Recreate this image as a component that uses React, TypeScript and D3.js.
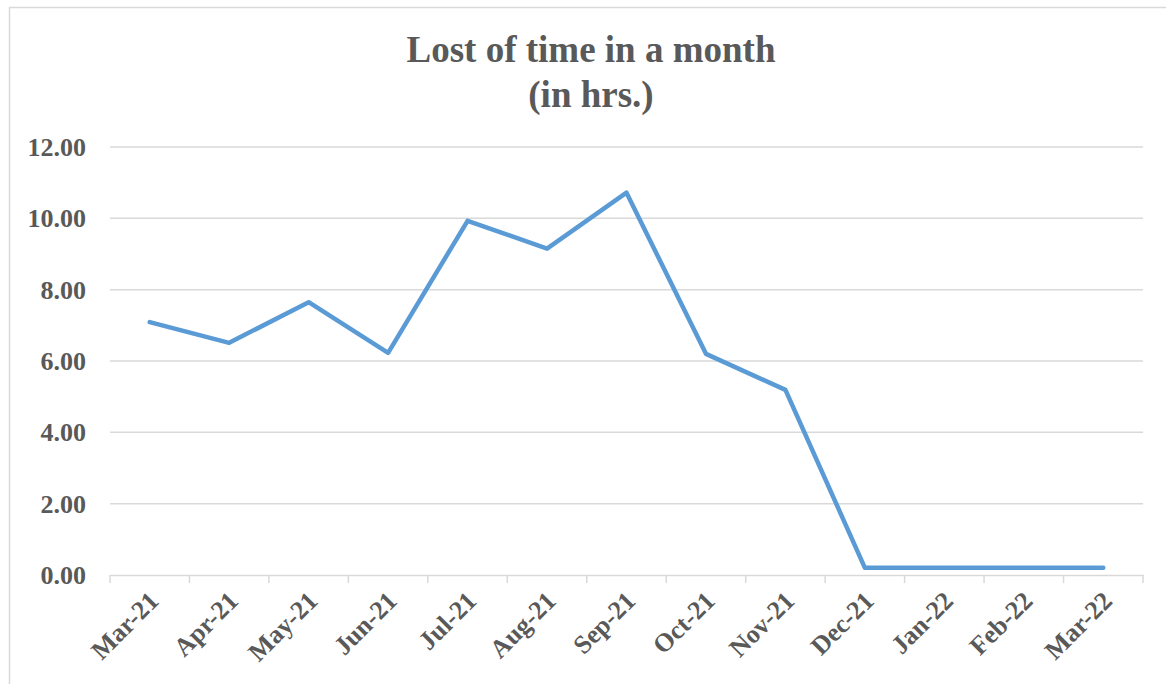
import React, { useEffect, useRef } from "react";
import * as d3 from "d3";

const months: string[] = [
  "Mar-21", "Apr-21", "May-21", "Jun-21", "Jul-21", "Aug-21", "Sep-21",
  "Oct-21", "Nov-21", "Dec-21", "Jan-22", "Feb-22", "Mar-22",
];

const hoursLost: number[] = [7.09, 6.51, 7.65, 6.23, 9.93, 9.15, 10.72, 6.2, 5.19, 0.2, 0.2, 0.2, 0.2];

const yTicks: number[] = [0, 2, 4, 6, 8, 10, 12];

const titleLines: string[] = ["Lost of time in a month", "(in hrs.)"];

const App: React.FC = () => {
  const svgRef = useRef<SVGSVGElement | null>(null);

  useEffect(() => {
    const svg = d3.select(svgRef.current);
    svg.selectAll("*").remove();

    const width = 1166;
    const height = 684;
    const margin = { top: 147, right: 23, bottom: 109, left: 110 };
    const textColor = "#595959";
    const font = "'Liberation Serif', 'Times New Roman', serif";

    // outer chart border
    svg.append("rect")
      .attr("x", 9.5)
      .attr("y", 7.5)
      .attr("width", width)
      .attr("height", height)
      .attr("fill", "white")
      .attr("stroke", "#d9d9d9")
      .attr("stroke-width", 1.5);

    const x = d3.scaleBand()
      .domain(months)
      .range([margin.left, width - margin.right]);

    const y = d3.scaleLinear()
      .domain([0, 12])
      .range([height - margin.bottom, margin.top]);

    // title
    svg.append("text")
      .attr("text-anchor", "middle")
      .attr("fill", textColor)
      .style("font-family", font)
      .style("font-weight", "bold")
      .style("font-size", "37px")
      .selectAll("tspan")
      .data(titleLines)
      .join("tspan")
      .attr("x", 591)
      .attr("y", (_d, i) => 62 + i * 45)
      .text((d) => d);

    // gridlines
    svg.append("g")
      .selectAll("line")
      .data(yTicks.filter((t) => t > 0))
      .join("line")
      .attr("x1", margin.left)
      .attr("x2", width - margin.right)
      .attr("y1", (d) => y(d))
      .attr("y2", (d) => y(d))
      .attr("stroke", "#d9d9d9")
      .attr("stroke-width", 1.5);

    // y tick labels
    svg.append("g")
      .selectAll("text")
      .data(yTicks)
      .join("text")
      .attr("x", 86)
      .attr("y", (d) => y(d))
      .attr("dy", "0.35em")
      .attr("text-anchor", "end")
      .attr("fill", textColor)
      .style("font-family", font)
      .style("font-weight", "bold")
      .style("font-size", "26px")
      .text((d) => d3.format(".2f")(d));

    // x axis
    const xAxis = d3.axisBottom(x).tickSize(0).tickFormat(() => "");
    const gx = svg.append("g")
      .attr("transform", `translate(0, ${y(0)})`)
      .call(xAxis as any);
    gx.select(".domain").attr("stroke", "#d9d9d9").attr("stroke-width", 1.5);

    const edges = months.map((m) => x(m)!).concat([width - margin.right]);
    gx.selectAll("line.edge")
      .data(edges)
      .join("line")
      .attr("class", "edge")
      .attr("x1", (d) => d)
      .attr("x2", (d) => d)
      .attr("y1", 0)
      .attr("y2", 8)
      .attr("stroke", "#d9d9d9")
      .attr("stroke-width", 1.5);

    svg.append("g")
      .selectAll("text")
      .data(months)
      .join("text")
      .attr("transform", (d) => `translate(${x(d)! + x.bandwidth() / 2 + 4}, ${y(0) + 21}) rotate(-45)`)
      .attr("text-anchor", "end")
      .attr("dy", "0.35em")
      .attr("fill", textColor)
      .style("font-family", font)
      .style("font-weight", "bold")
      .style("font-size", "26px")
      .text((d) => d);

    // line
    const line = d3.line<number>()
      .x((_d, i) => x(months[i])! + x.bandwidth() / 2)
      .y((d) => y(d));

    svg.append("path")
      .datum(hoursLost)
      .attr("d", line)
      .attr("fill", "none")
      .attr("stroke", "#5b9bd5")
      .attr("stroke-width", 4.5)
      .attr("stroke-linejoin", "round")
      .attr("stroke-linecap", "round");
  }, []);

  return (
    <svg
      ref={svgRef}
      width={1166}
      height={684}
      style={{ display: "block", position: "absolute", left: 0, top: 0 }}
    />
  );
};

export default App;
